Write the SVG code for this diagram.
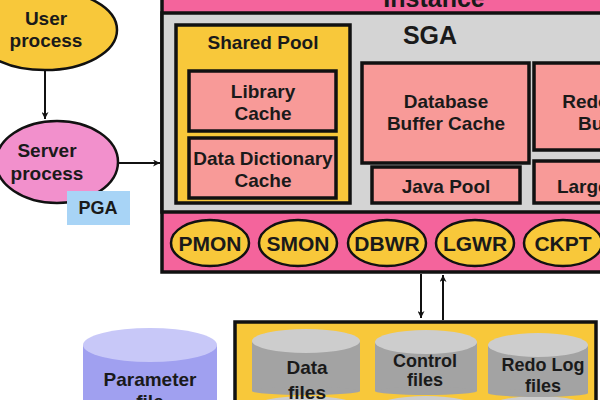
<svg xmlns="http://www.w3.org/2000/svg" width="600" height="400" viewBox="0 0 600 400">
<defs>
<style>
text{font-family:"Liberation Sans",Arial,sans-serif;font-weight:bold;text-anchor:middle;fill:#1a1a1a}
.box{stroke:#111;stroke-width:3.5}
.cache{fill:#f89a98}
.bg{fill:#f8c83a;stroke:#111;stroke-width:2.5}
.cylTop{fill:#cdcdcd}
.cylBody{fill:#a3a3a3}
.t19{font-size:19px}
.t18{font-size:18px}
.conn{stroke:#111;stroke-width:2;fill:none}
</style>
<marker id="ah" viewBox="0 0 10 10" refX="10" refY="5" markerWidth="7" markerHeight="7" orient="auto-start-reverse" markerUnits="userSpaceOnUse">
<path d="M0,0 L10,5 L0,10 L3,5 Z" fill="#111"/>
</marker>
</defs>
<rect width="600" height="400" fill="#ffffff"/>

<g id="user-process">
<ellipse cx="45" cy="30" rx="72" ry="40" fill="#f8c83a" stroke="#111" stroke-width="2.5"/>
<text x="46" y="25" class="t19">User</text>
<text x="46" y="47" class="t19">process</text>
</g>

<g id="server-process">
<ellipse cx="57" cy="162" rx="61" ry="41" fill="#f290cc" stroke="#111" stroke-width="2.5"/>
<text x="47" y="157" class="t19">Server</text>
<text x="47" y="180" class="t19">process</text>
</g>

<g id="pga">
<rect x="67" y="191" width="63" height="34" fill="#a8d4f6"/>
<text x="98" y="214" font-size="18px">PGA</text>
</g>

<g id="instance">
<rect x="162" y="-20" width="460" height="292" fill="#f4649c" class="box"/>
<text x="434" y="7" font-size="25px">Instance</text>
</g>

<g id="sga">
<rect x="162" y="13" width="460" height="199" fill="#d4d4d4" class="box"/>
<text x="430" y="44" font-size="25px">SGA</text>
</g>

<g id="shared-pool">
<rect x="176" y="25" width="174" height="178" fill="#f8c83a" class="box"/>
<text x="263" y="49" class="t19">Shared Pool</text>
</g>

<g id="library-cache">
<rect x="189" y="71" width="147" height="60" class="cache box"/>
<text x="263" y="98" class="t19">Library</text>
<text x="263" y="120" class="t19">Cache</text>
</g>

<g id="data-dictionary-cache">
<rect x="189" y="138" width="147" height="60" class="cache box"/>
<text x="263" y="165" class="t19">Data Dictionary</text>
<text x="263" y="187" class="t19">Cache</text>
</g>

<g id="database-buffer-cache">
<rect x="362" y="63" width="167" height="100" class="cache box"/>
<text x="446" y="108" class="t19">Database</text>
<text x="446" y="130" class="t19">Buffer Cache</text>
</g>

<g id="java-pool">
<rect x="372" y="167" width="148" height="36" class="cache box"/>
<text x="446" y="193" class="t19">Java Pool</text>
</g>

<g id="redo-log-buffer">
<rect x="534" y="63" width="90" height="87" class="cache box"/>
<text x="606" y="108" class="t19">Redo Log</text>
<text x="606" y="130" class="t19">Buffer</text>
</g>

<g id="large-pool">
<rect x="534" y="161" width="90" height="42" class="cache box"/>
<text x="606" y="193" class="t19">Large Pool</text>
</g>

<g id="pmon"><ellipse cx="210" cy="243" rx="39" ry="23" class="bg"/><text x="210" y="251" font-size="21px">PMON</text></g>
<g id="smon"><ellipse cx="298" cy="243" rx="39" ry="23" class="bg"/><text x="298" y="251" font-size="21px">SMON</text></g>
<g id="dbwr"><ellipse cx="387" cy="243" rx="39" ry="23" class="bg"/><text x="387" y="251" font-size="21px">DBWR</text></g>
<g id="lgwr"><ellipse cx="475" cy="243" rx="39" ry="23" class="bg"/><text x="475" y="251" font-size="21px">LGWR</text></g>
<g id="ckpt"><ellipse cx="563" cy="243" rx="39" ry="23" class="bg"/><text x="563" y="251" font-size="21px">CKPT</text></g>

<g id="parameter-file">
<rect x="83" y="345" width="134" height="70" fill="#a0a0f0"/>
<ellipse cx="150" cy="345" rx="67" ry="17" fill="#c8c8f8"/>
<text x="150" y="386" class="t19" fill="#1a1a40">Parameter</text>
<text x="150" y="408" class="t19" fill="#1a1a40">file</text>
</g>

<g id="database">
<rect x="235" y="322" width="361" height="100" fill="#f8c83a" class="box"/>
</g>

<g id="data-files">
<ellipse cx="306" cy="408" rx="54" ry="12" class="cylTop"/>
<rect x="252" y="341" width="108" height="50" class="cylBody"/>
<ellipse cx="306" cy="391" rx="54" ry="4" class="cylBody"/>
<ellipse cx="306" cy="341" rx="54" ry="12" class="cylTop"/>
<text x="307" y="374" class="t19">Data</text>
<text x="307" y="399" class="t19">files</text>
</g>

<g id="control-files">
<ellipse cx="426" cy="408" rx="51" ry="12" class="cylTop"/>
<rect x="375" y="342" width="102" height="49" class="cylBody"/>
<ellipse cx="426" cy="391" rx="51" ry="4" class="cylBody"/>
<ellipse cx="426" cy="342" rx="51" ry="12" class="cylTop"/>
<text x="425" y="367" class="t18">Control</text>
<text x="425" y="386" class="t18">files</text>
</g>

<g id="redo-log-files">
<ellipse cx="538" cy="408" rx="50" ry="12" class="cylTop"/>
<rect x="488" y="345" width="100" height="48" class="cylBody"/>
<ellipse cx="538" cy="393" rx="50" ry="4" class="cylBody"/>
<ellipse cx="538" cy="345" rx="50" ry="12" class="cylTop"/>
<text x="543" y="371" class="t18">Redo Log</text>
<text x="543" y="392" class="t18">files</text>
</g>

<g id="connectors">
<line x1="45" y1="70" x2="45" y2="119" class="conn" marker-end="url(#ah)"/>
<line x1="118" y1="163" x2="160" y2="163" class="conn" marker-end="url(#ah)"/>
<line x1="421" y1="274" x2="421" y2="318" class="conn" marker-end="url(#ah)"/>
<line x1="443" y1="320" x2="443" y2="275" class="conn" marker-end="url(#ah)"/>
</g>
</svg>
